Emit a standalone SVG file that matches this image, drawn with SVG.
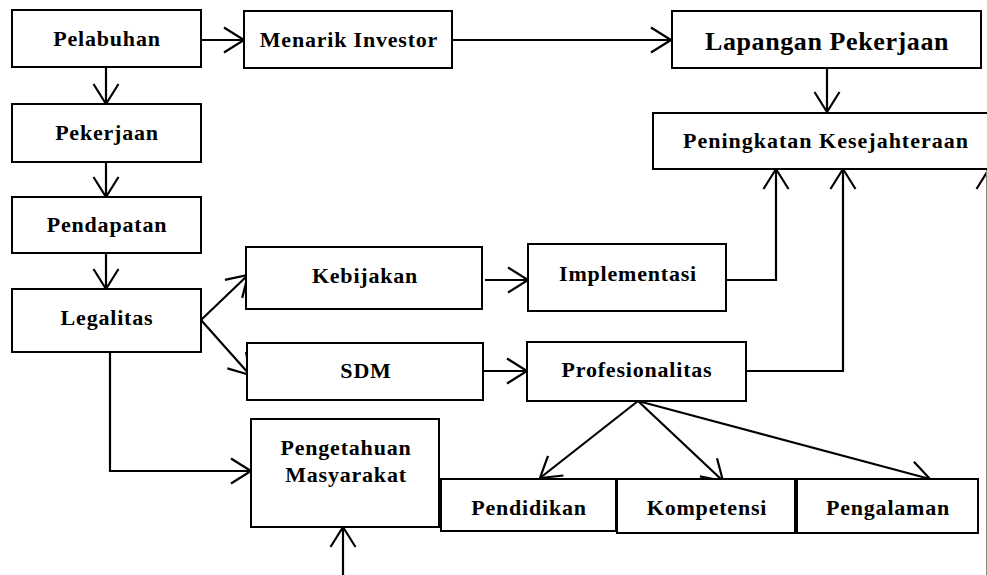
<svg xmlns="http://www.w3.org/2000/svg" width="987" height="575" viewBox="0 0 987 575">
<style>
.box{fill:#fff;stroke:#000;stroke-width:2}
text{font-family:'Liberation Serif','DejaVu Serif',serif;font-weight:700;font-size:22px;letter-spacing:0.8px;text-anchor:middle;fill:#000}
.big{font-size:26px;letter-spacing:0.6px}
.c{fill:none;stroke:#000;stroke-width:2.2}
</style>
<defs>
<marker id="ah" markerUnits="userSpaceOnUse" markerWidth="30" markerHeight="30" viewBox="-22 -15 24 30" refX="0" refY="0" orient="auto">
<path d="M-20,-12.5 L0,0 L-20,12.5" fill="none" stroke="#000" stroke-width="2.2"/>
</marker>
</defs>
<g id="connectors">
<path class="c" d="M201,40 H244" marker-end="url(#ah)"/>
<path class="c" d="M452,40 H671" marker-end="url(#ah)"/>
<path class="c" d="M827,68 V112" marker-end="url(#ah)"/>
<path class="c" d="M106,67 V104" marker-end="url(#ah)"/>
<path class="c" d="M106,162 V197" marker-end="url(#ah)"/>
<path class="c" d="M106,253 V289" marker-end="url(#ah)"/>
<path class="c" d="M201,320 L248,275" marker-end="url(#ah)"/>
<path class="c" d="M201,320 L250,375" marker-end="url(#ah)"/>
<path class="c" d="M110,352 V471 H251" marker-end="url(#ah)"/>
<path class="c" d="M485,280 H528" marker-end="url(#ah)"/>
<path class="c" d="M484,371 H527" marker-end="url(#ah)"/>
<path class="c" d="M726,280 H776 V169" marker-end="url(#ah)"/>
<path class="c" d="M746,371 H843 V169" marker-end="url(#ah)"/>
<path class="c" d="M989,575 V169" marker-end="url(#ah)"/>
<path class="c" d="M343,575 V527" marker-end="url(#ah)"/>
<path class="c" d="M638,401 L540,478" marker-end="url(#ah)"/>
<path class="c" d="M638,401 L723,481" marker-end="url(#ah)"/>
<path class="c" d="M638,401 L930,479" marker-end="url(#ah)"/>
<line x1="986.5" y1="169" x2="986.5" y2="575" stroke="#888" stroke-width="1"/>
</g>
<g id="pelabuhan"><rect class="box" x="12" y="10" width="189" height="57"/><text x="107" y="46">Pelabuhan</text></g>
<g id="menarik"><rect class="box" x="244" y="11" width="208" height="57"/><text x="349" y="47">Menarik Investor</text></g>
<g id="lapangan"><rect class="box" x="672" y="11" width="309" height="57"/><text class="big" x="827" y="50">Lapangan Pekerjaan</text></g>
<g id="peningkatan"><rect class="box" x="653" y="113" width="345" height="56"/><text x="826" y="148" style="letter-spacing:1px">Peningkatan Kesejahteraan</text></g>
<g id="pekerjaan"><rect class="box" x="12" y="104" width="189" height="58"/><text x="107" y="140">Pekerjaan</text></g>
<g id="pendapatan"><rect class="box" x="12" y="197" width="189" height="56"/><text x="107" y="232">Pendapatan</text></g>
<g id="legalitas"><rect class="box" x="12" y="289" width="189" height="63"/><text x="107" y="325">Legalitas</text></g>
<g id="kebijakan"><rect class="box" x="246" y="247" width="236" height="62"/><text x="365" y="283">Kebijakan</text></g>
<g id="sdm"><rect class="box" x="247" y="343" width="236" height="57"/><text x="366" y="378">SDM</text></g>
<g id="implementasi"><rect class="box" x="528" y="244" width="198" height="67"/><text x="628" y="281">Implementasi</text></g>
<g id="profesionalitas"><rect class="box" x="527" y="342" width="219" height="59"/><text x="637" y="377">Profesionalitas</text></g>
<g id="pengetahuan"><rect class="box" x="251" y="419" width="188" height="108"/><text x="346" y="455">Pengetahuan</text><text x="346" y="482">Masyarakat</text></g>
<g id="pendidikan"><rect class="box" x="441" y="479" width="175" height="52"/><text x="529" y="515">Pendidikan</text></g>
<g id="kompetensi"><rect class="box" x="617" y="479" width="178" height="54"/><text x="707" y="515">Kompetensi</text></g>
<g id="pengalaman"><rect class="box" x="797" y="479" width="181" height="54"/><text x="888" y="515">Pengalaman</text></g>
</svg>
